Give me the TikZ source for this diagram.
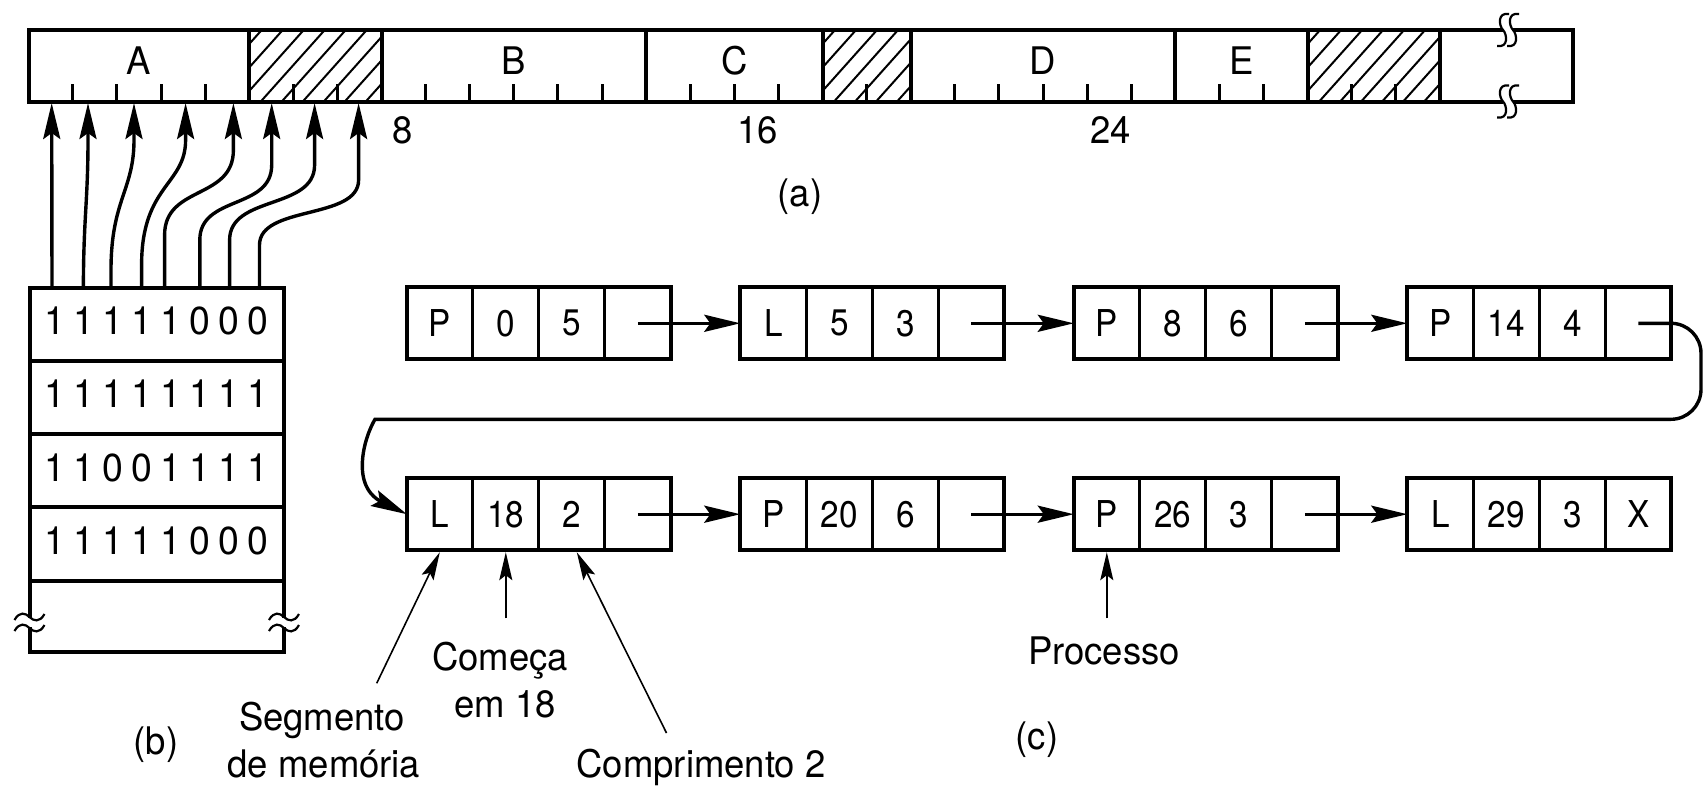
\documentclass[tikz,border=0pt]{standalone}
\usepackage{fontspec}
\setmainfont{TeX Gyre Heros}[FakeStretch=0.96]
\newfontfamily\cellfont{TeX Gyre Heros}[FakeStretch=0.9]
\usetikzlibrary{arrows.meta,calc}

% x position of allocation unit #1 on the memory bar
\newcommand\bpos[1]{28.7+44.1*#1}

\begin{document}
\begin{tikzpicture}[x=0.5pt,y=-0.5pt,
  lbl/.style={font=\fontsize{19}{23.5}\selectfont, inner sep=0pt},
  bit/.style={font=\fontsize{19.5}{23}\selectfont, inner sep=0pt},
  cell/.style={draw, line width=1.6pt, minimum width=33pt, minimum height=36pt,
               inner sep=0pt, outer sep=0pt, font=\cellfont\fontsize{18.5}{20}\selectfont},
  box/.style={line width=2pt},
  bigtip/.style={-{Stealth[length=18pt,width=8.5pt,inset=3pt]}, line width=1.7pt},
  thintip/.style={-{Stealth[length=14pt,width=6.5pt,inset=2.5pt]}, line width=0.8pt},
  hatchline/.style={line width=1pt},
  tick/.style={line width=1.5pt},
  brk/.style={line width=1.1pt},
  sbrk/.pic={\draw[brk] (6,-16) .. controls (-6,-18) and (-4,-4) .. (0,0)
                         .. controls (4,4) and (6,18) .. (-6,16);},
  tld/.pic={\draw[brk] (-15,3) .. controls (-10,-6) and (-4,-4) .. (0,0)
                        .. controls (4,4) and (10,6) .. (15,-3);},
]
\useasboundingbox (0,0) rectangle (1704,787);

% ---------- (a) memory bar ----------
\foreach \a/\b in {5/8,18/20,29/32} {
  \begin{scope}
    \clip ({\bpos{\a}},30) rectangle ({\bpos{\b}},101.5);
    \foreach \k in {0,...,10}
      \draw[hatchline] ({\bpos{\a}-80+21*\k},110) -- ++(76,-85);
  \end{scope}
}
\foreach \p in {1,2,3,4,6,7,9,10,11,12,13,15,16,17,19,21,22,23,24,25,27,28,30,31}
  \draw[tick] ({\bpos{\p}},101.5) -- ({\bpos{\p}},83.5);
\draw[box] (1503,30) -- (28.7,30) -- (28.7,101.5) -- (1503,101.5);
\draw[box] (1513,30) -- (1572.7,30) -- (1572.7,101.5) -- (1513,101.5);
\foreach \p in {5,8,14,18,20,26,29,32}
  \draw[box] ({\bpos{\p}},30) -- ({\bpos{\p}},101.5);
\pic at (1503,30) {sbrk};
\pic at (1513,30) {sbrk};
\pic at (1503,101.5) {sbrk};
\pic at (1513,101.5) {sbrk};

\node[lbl,anchor=base] (segA) at ({\bpos{2.5}},75) {A};
\node[lbl,anchor=base] (segB) at ({\bpos{11}},75) {B};
\node[lbl,anchor=base] (segC) at ({\bpos{16}},75) {C};
\node[lbl,anchor=base] (segD) at ({\bpos{23}},75) {D};
\node[lbl,anchor=base] (segE) at ({\bpos{27.5}},75) {E};
\node[lbl,anchor=base] (n8) at (402.5,143) {8};
\node[lbl,anchor=base] (n16) at (757.6,143) {16};
\node[lbl,anchor=base] (n24) at (1110.7,143) {24};
\node[lbl] (laba) at (800,196.5) {(a)};

% ---------- (b) bitmap ----------
\draw[box] (29.5,287.5) rectangle (284,651.7);
\foreach \y in {360.8,434.1,507.4,580.7}
  \draw[box] (29.5,\y) -- (284,\y);
\fill[white] (26,618) rectangle (33,627);
\fill[white] (280.5,618) rectangle (287.5,627);
\pic at (29.5,617) {tld};
\pic at (29.5,628) {tld};
\pic at (284,617) {tld};
\pic at (284,628) {tld};

\foreach \b [count=\i from 0] in {1,1,1,1,1,0,0,0}
  \node[bit] (ba\i) at ({55+29.05*\i},321) {\b};
\foreach \b [count=\i from 0] in {1,1,1,1,1,1,1,1}
  \node[bit] (bb\i) at ({55+29.05*\i},394) {\b};
\foreach \b [count=\i from 0] in {1,1,0,0,1,1,1,1}
  \node[bit] (bc\i) at ({55+29.05*\i},467.5) {\b};
\foreach \b [count=\i from 0] in {1,1,1,1,1,0,0,0}
  \node[bit] (bd\i) at ({55+29.05*\i},541) {\b};
\node[lbl] (labb) at (156,744.5) {(b)};

% bits of the first byte point at their allocation units
\foreach \i/\xb/\xt in {1/52/51.7,2/83.4/88,3/111/134,4/141.6/185.6,5/164.6/233.4,
                        6/199.8/271.7,7/229.6/314.6,8/259.5/358.6} {
  \coordinate (bs\i) at (\xb,287.5);
  \coordinate (bt\i) at (\xt,103);
}
\draw[bigtip] (bs1) -- (bt1);
\draw[bigtip] (bs2) .. controls (83.4,220) and (88,200) .. (88,140) -- (bt2);
\draw[bigtip] (bs3) -- (111,270) .. controls (111,200) and (134,190) .. (134,140) -- (bt3);
\draw[bigtip] (bs4) -- (141.6,265) .. controls (141.6,185) and (185.6,185) .. (185.6,140) -- (bt4);
\draw[bigtip] (bs5) -- (164.6,235) .. controls (164.6,185) and (233.4,200) .. (233.4,150) -- (bt5);
\draw[bigtip] (bs6) -- (199.8,240) .. controls (199.8,195) and (271.7,210) .. (271.7,165) -- (bt6);
\draw[bigtip] (bs7) -- (229.6,240) .. controls (229.6,195) and (314.6,210) .. (314.6,165) -- (bt7);
\draw[bigtip] (bs8) -- (259.5,245) .. controls (259.5,205) and (358.6,220) .. (358.6,180) -- (bt8);

% ---------- (c) linked list ----------
\foreach \k/\ca/\cb/\cc/\cd in {1/P/0/5/, 2/L/5/3/, 3/P/8/6/, 4/P/14/4/} {
  \foreach \j/\t in {1/\ca,2/\cb,3/\cc,4/\cd}
    \node[cell] (r1n\k-c\j) at ({406.8+333.5*(\k-1)+66*(\j-1)+33},323.3) {\t};
  \draw[box] (r1n\k-c1.north west) rectangle (r1n\k-c4.south east);
}
\foreach \k/\ca/\cb/\cc/\cd in {1/L/18/2/, 2/P/20/6/, 3/P/26/3/, 4/L/29/3/X} {
  \foreach \j/\t in {1/\ca,2/\cb,3/\cc,4/\cd}
    \node[cell] (r2n\k-c\j) at ({406.8+333.5*(\k-1)+66*(\j-1)+33},514.2) {\t};
  \draw[box] (r2n\k-c1.north west) rectangle (r2n\k-c4.south east);
}

\draw[bigtip] (r1n1-c4.center) -- (r1n2-c1.west);
\draw[bigtip] (r1n2-c4.center) -- (r1n3-c1.west);
\draw[bigtip] (r1n3-c4.center) -- (r1n4-c1.west);
\draw[bigtip] (r2n1-c4.center) -- (r2n2-c1.west);
\draw[bigtip] (r2n2-c4.center) -- (r2n3-c1.west);
\draw[bigtip] (r2n3-c4.center) -- (r2n4-c1.west);
\draw[bigtip] (r1n4-c4.center) [rounded corners=15pt] -- (1701,323.3) -- (1701,419.3)
  -- (405,419.3) [sharp corners] .. controls (375,419.3) and (362.3,440) .. (362.3,466)
  .. controls (362.3,492) and (378,500) .. (r2n1-c1.west);

% annotations
\node[lbl,anchor=base] (seg1) at (322,730) {Segmento};
\node[lbl,anchor=base] (seg2) at (324,777) {de memória};
\node[lbl,anchor=base] (com1) at (500,670) {Começa};
\node[lbl,anchor=base] (com2) at (505,717) {em 18};
\node[lbl,anchor=base] (lenl) at (701,777) {Comprimento 2};
\node[lbl,anchor=base] (proc) at (1104,664) {Processo};
\node[lbl] (labc) at (1037,740) {(c)};

\coordinate (segtail) at (376.7,683.3);
\coordinate (comtail) at (505.8,618.3);
\coordinate (lentail) at (666.5,733);
\coordinate (proctail) at (1106.8,618.3);
\draw[thintip] (segtail) -- ($(r2n1-c1.south)+(0,2)$);
\draw[thintip] (comtail) -- ($(r2n1-c2.south)+(0,2)$);
\draw[thintip] (lentail) -- ($(r2n1-c3.south)+(5,2)$);
\draw[thintip] (proctail) -- ($(r2n3-c1.south)+(0,2)$);
\end{tikzpicture}
\end{document}
